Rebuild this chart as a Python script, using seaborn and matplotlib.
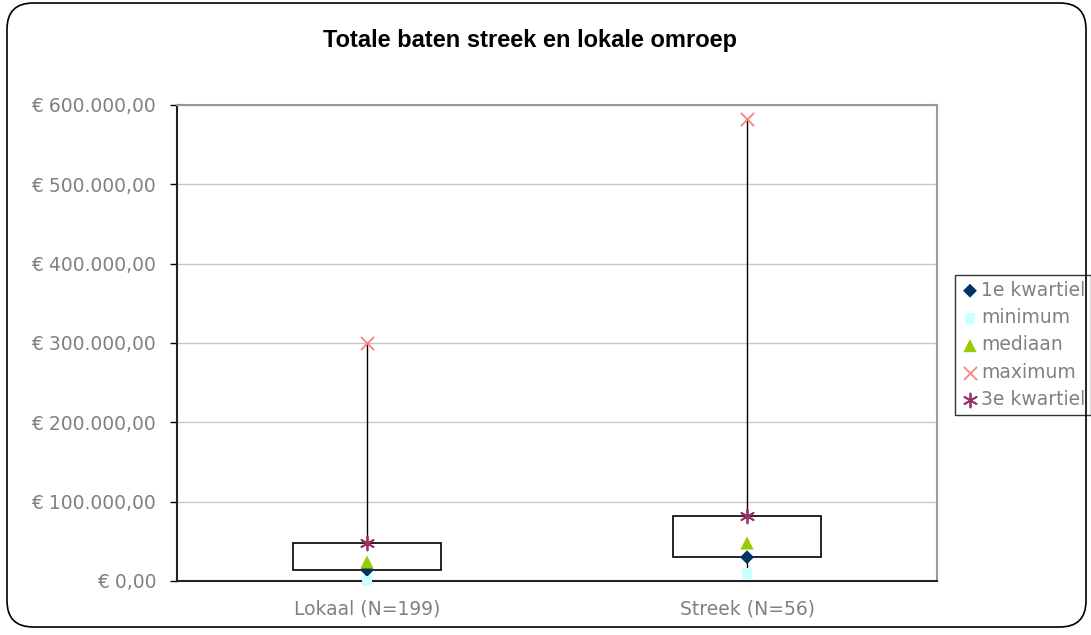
import numpy as np
import pandas as pd
import seaborn as sns
import matplotlib.pyplot as plt
from matplotlib.patches import FancyBboxPatch

categories = ['Lokaal (N=199)', 'Streek (N=56)']
kwartiel_1 = [14000, 30000]
minimum = [0, 9000]
mediaan = [24000, 48000]
maximum = [300000, 582000]
kwartiel_3 = [48000, 82000]

y_ticks = [0, 100000, 200000, 300000, 400000, 500000, 600000]
y_labels = ['€ 0,00', '€ 100.000,00', '€ 200.000,00', '€ 300.000,00',
            '€ 400.000,00', '€ 500.000,00', '€ 600.000,00']

sns.set_style("white")
plt.rcParams['font.family'] = ['DejaVu Sans']

fig = plt.figure(figsize=(10.91, 6.35), dpi=100)
ax = fig.add_axes([177 / 1091, 1 - 581 / 635, 760 / 1091, 476 / 635])

# outer rounded frame
frame = FancyBboxPatch((7 / 1091, 8 / 635), 1079 / 1091, 624 / 635,
                       boxstyle="round,pad=0,rounding_size=0.024",
                       transform=fig.transFigure, facecolor='none',
                       edgecolor='black', linewidth=1.2, mutation_aspect=1091 / 635)
fig.patches.append(frame)

pos = np.arange(len(categories))

# high-low lines and quartile boxes
ax.vlines(pos, minimum, maximum, color='black', linewidth=1, zorder=2)
ax.bar(pos, np.array(kwartiel_3) - np.array(kwartiel_1), bottom=kwartiel_1,
       width=0.392, facecolor='white', edgecolor='black', linewidth=1.2, zorder=3)

series = [
    ('1e kwartiel', kwartiel_1, 'D', '#003366', 50),
    ('minimum', minimum, 's', '#ccffff', 60),
    ('mediaan', mediaan, '^', '#99cc00', 90),
    ('maximum', maximum, 'x', '#ff8080', 90),
    ('3e kwartiel', kwartiel_3, (6, 2, 0), '#993366', 100),
]
for name, vals, mk, col, size in series:
    df = pd.DataFrame({'x': pos, 'y': vals})
    lined = mk in ('x', (6, 2, 0))
    sns.scatterplot(data=df, x='x', y='y', marker=mk, color=col, s=size,
                    linewidth=1.3 if lined else 0,
                    edgecolor=col if lined else 'none',
                    label=name, ax=ax, zorder=4, clip_on=False)

ax.set_xlim(-0.5, 1.5)
ax.set_ylim(0, 600000)
ax.set_yticks(y_ticks)
ax.set_yticklabels(y_labels, fontsize=13.5, color='#808080')
ax.set_xticks(pos)
ax.set_xticklabels(categories, fontsize=13.5, color='#808080')
ax.set_xticks([-0.5, 0.5, 1.5], minor=True)
ax.tick_params(axis='x', which='major', length=0, pad=13)
ax.tick_params(axis='x', which='minor', length=5, direction='out', color='black', width=1)
ax.tick_params(axis='y', length=5, direction='out', color='black', width=1, pad=10, left=True)
ax.set_xlabel('')
ax.set_ylabel('')
ax.grid(axis='y', color='#c8c8c8', linewidth=1)
ax.set_axisbelow(True)
for s in ['top', 'right']:
    ax.spines[s].set_color('#999999')
    ax.spines[s].set_linewidth(1.5)
for s in ['left', 'bottom']:
    ax.spines[s].set_color('#222222')
    ax.spines[s].set_linewidth(1.5)

leg = ax.legend(loc='upper left', bbox_to_anchor=(955 / 1091, 1 - 275 / 635),
                bbox_transform=fig.transFigure, frameon=True, fancybox=False,
                fontsize=13.5, handletextpad=0.1, handlelength=1.0,
                borderpad=0.3, labelspacing=0.45, borderaxespad=0)
leg.get_frame().set_edgecolor('black')
leg.get_frame().set_linewidth(1)
for t in leg.get_texts():
    t.set_color('#808080')

fig.text(530 / 1091, 1 - 40 / 635, 'Totale baten streek en lokale omroep',
         ha='center', va='center', fontsize=17, fontweight='bold',
         family='Liberation Sans', color='black')

fig.savefig('out.png', dpi=100)
